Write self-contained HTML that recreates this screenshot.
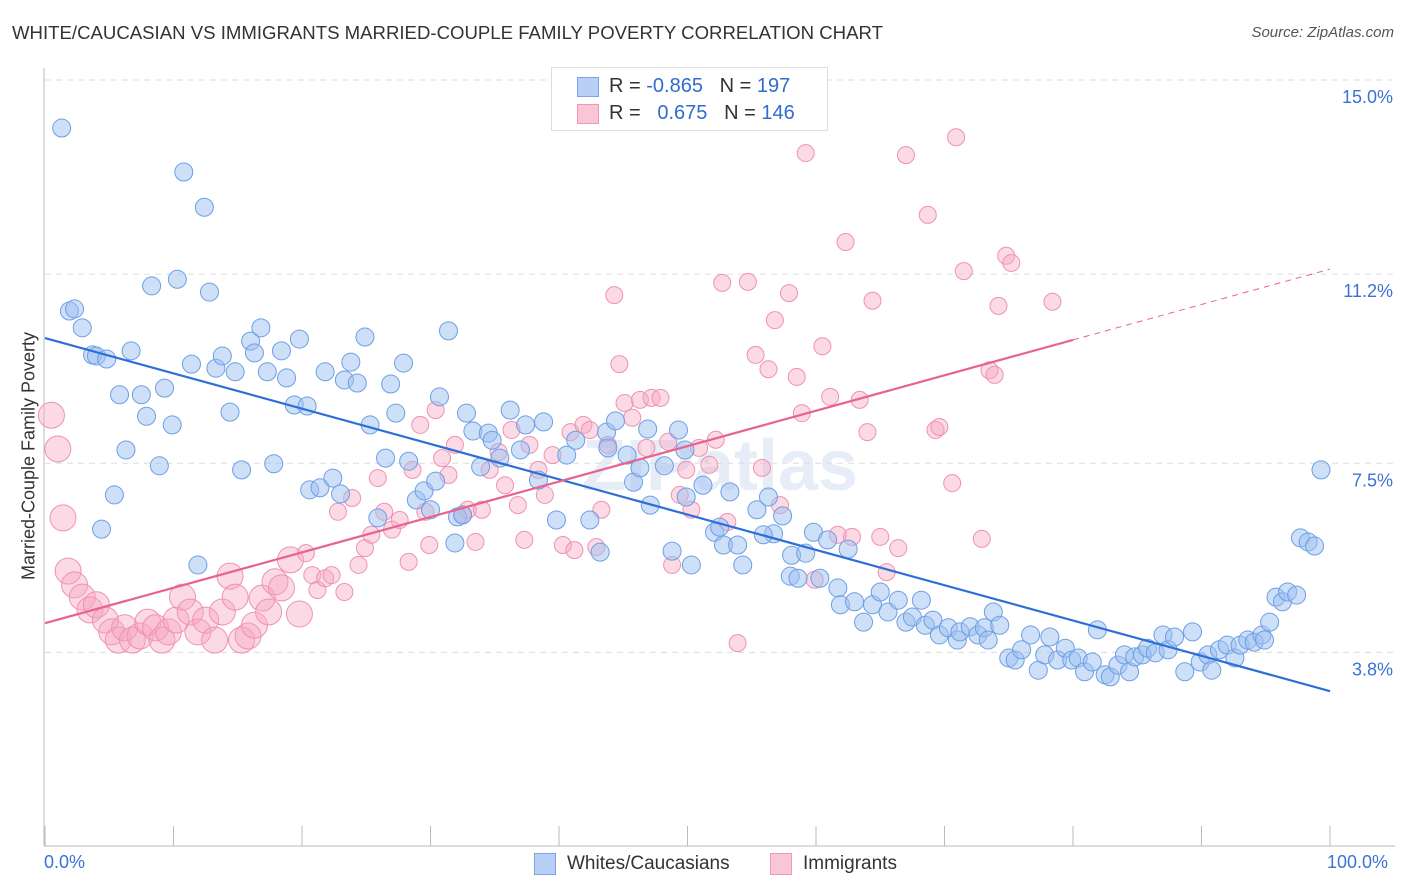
<!DOCTYPE html>
<html><head><meta charset="utf-8"><style>
body{margin:0;background:#fff;font-family:"Liberation Sans",sans-serif;}
#wrap{position:relative;width:1406px;height:892px;overflow:hidden;}
.t{position:absolute;white-space:nowrap;}
</style></head><body>
<div id="wrap">
<div class="t" style="left:12px;top:22px;font-size:18.6px;color:#333;">WHITE/CAUCASIAN VS IMMIGRANTS MARRIED-COUPLE FAMILY POVERTY CORRELATION CHART</div>
<div class="t" style="right:12px;top:24px;font-size:15px;color:#555;font-style:italic;">Source: ZipAtlas.com</div>
<svg id="svg" width="1406" height="892" style="position:absolute;left:0;top:0"></svg>
<div class="t" style="left:551px;top:67px;width:275px;height:62px;border:1px solid #ddd;background:#fff;">
 <div style="position:absolute;left:25px;top:9px;width:20px;height:18px;background:#b8d0f5;border:1px solid #7aa4e6;"></div>
 <div style="position:absolute;left:25px;top:36px;width:20px;height:18px;background:#fac6d6;border:1px solid #ee9ab4;"></div>
 <div class="t" style="left:57px;top:7px;font-size:20px;color:#333;">R = <span style="color:#2f6bd0">-0.865</span>&nbsp;&nbsp;&nbsp;N = <span style="color:#2f6bd0">197</span></div>
 <div class="t" style="left:57px;top:34px;font-size:20px;color:#333;">R = &nbsp;&nbsp;<span style="color:#2f6bd0">0.675</span>&nbsp;&nbsp;&nbsp;N = <span style="color:#2f6bd0">146</span></div>
</div>
<div class="t" style="top:456px;transform:translate(-50%,-50%) rotate(-90deg);transform-origin:center;left:29px;font-size:18px;color:#333;">Married-Couple Family Poverty</div>
<div class="t" style="left:44px;top:852px;font-size:18px;color:#3b72d4;">0.0%</div>
<div class="t" style="left:1327px;top:852px;font-size:18px;color:#3b72d4;">100.0%</div>
<div class="t" style="left:534px;top:853px;width:20px;height:20px;background:#b8d0f5;border:1px solid #7aa4e6;"></div>
<div class="t" style="left:567px;top:853px;font-size:19px;color:#333;">Whites/Caucasians</div>
<div class="t" style="left:770px;top:853px;width:20px;height:20px;background:#fac6d6;border:1px solid #ee9ab4;"></div>
<div class="t" style="left:803px;top:853px;font-size:19px;color:#333;">Immigrants</div>
</div>
<script>
const yTicks=[15.0,11.2,7.5,3.8];
const yTickLabels=["15.0%","11.2%","7.5%","3.8%"];
const xTicks=[0,10,20,30,40,50,60,70,80,90,100];
const blueTrend=[9.95,3.04];
const pinkTrend=[4.37,11.3];
const pinkSolidEnd=80;
const blueX=[1.3,10.8,12.4,1.9,2.3,2.9,3.7,4.0,4.8,6.7,8.3,10.3,12.8,5.8,7.5,9.3,7.9,9.9,6.3,8.9,5.4,4.4,11.4,13.3,13.8,14.8,14.4,15.3,11.9,16.0,16.8,16.3,17.3,18.4,18.8,19.8,19.4,20.4,17.8,21.8,23.3,23.8,24.3,24.9,27.9,26.9,31.4,30.7,27.3,25.3,20.6,21.4,22.4,23.0,26.5,28.3,25.9,28.9,29.5,30.4,32.8,33.3,34.5,34.8,36.2,37.4,38.8,37.0,33.9,35.4,30.0,32.1,32.5,31.9,38.4,39.8,40.6,41.3,42.4,43.2,43.7,44.4,43.8,45.3,45.8,46.9,46.3,47.1,48.2,49.3,49.8,48.8,50.3,51.2,49.9,52.1,52.5,52.8,53.3,53.9,54.3,55.4,56.3,57.4,56.7,55.9,58.1,58.0,58.6,59.2,59.8,60.3,60.9,61.7,61.9,62.5,63.0,63.7,64.4,65.0,65.6,66.4,67.0,67.5,68.2,68.5,69.1,69.6,70.3,71.0,71.2,72.0,72.6,73.1,73.8,74.3,73.4,75.0,75.5,76.0,76.7,77.3,77.8,78.2,78.8,79.4,79.9,80.4,80.9,81.5,81.9,82.5,82.9,83.5,84.0,84.4,84.8,85.4,85.8,86.4,87.0,87.4,87.9,88.7,89.3,89.9,90.5,90.8,91.4,92.0,92.6,93.0,93.6,94.1,94.7,94.9,95.3,95.8,96.3,96.7,97.4,97.7,98.3,98.8,99.3];
const blueY=[14.06,13.2,12.51,10.48,10.52,10.15,9.62,9.6,9.54,9.7,10.97,11.1,10.85,8.84,8.84,8.97,8.42,8.25,7.76,7.45,6.88,6.21,9.44,9.36,9.6,9.29,8.5,7.37,5.51,9.89,10.15,9.66,9.29,9.7,9.17,9.93,8.64,8.62,7.49,9.29,9.13,9.48,9.07,9.97,9.46,9.05,10.09,8.8,8.48,8.25,6.98,7.02,7.21,6.9,7.6,7.54,6.43,6.78,6.96,7.15,8.48,8.13,8.09,7.95,8.54,8.25,8.31,7.76,7.43,7.6,6.59,6.45,6.49,5.94,7.17,6.39,7.66,7.95,6.39,5.76,8.11,8.33,7.8,7.66,7.13,8.17,7.41,6.68,7.45,8.15,7.76,5.78,5.51,7.07,6.84,6.15,6.25,5.9,6.94,5.9,5.51,6.59,6.84,6.47,6.12,6.1,5.7,5.29,5.25,5.74,6.15,5.25,6.0,5.06,4.73,5.82,4.79,4.39,4.73,4.98,4.59,4.82,4.39,4.49,4.82,4.33,4.43,4.14,4.28,4.04,4.2,4.3,4.14,4.28,4.59,4.33,4.04,3.69,3.65,3.85,4.14,3.45,3.75,4.1,3.65,3.88,3.65,3.69,3.42,3.61,4.24,3.36,3.32,3.55,3.75,3.42,3.71,3.75,3.88,3.79,4.14,3.85,4.1,3.42,4.2,3.61,3.75,3.45,3.85,3.94,3.69,3.94,4.04,4.0,4.14,4.04,4.39,4.88,4.79,4.98,4.92,6.04,5.96,5.88,7.37];
const pinkX=[0.5,1.0,1.4,1.8,2.3,2.9,3.5,4.0,4.7,5.2,5.7,6.2,6.8,7.4,8.0,8.6,9.1,9.6,10.2,10.7,11.3,11.9,12.5,13.2,13.8,14.4,14.8,15.3,15.8,16.3,16.9,17.4,17.9,18.4,19.1,19.8,20.3,20.8,21.2,21.8,22.3,22.8,23.3,23.9,24.4,24.9,25.4,25.9,26.4,27.0,27.6,28.3,28.6,29.2,29.6,29.9,30.4,30.9,31.4,31.9,32.5,32.9,33.5,34.0,34.6,35.3,35.8,36.3,36.8,37.3,37.7,38.4,38.9,39.5,40.3,40.9,41.2,41.9,42.4,42.9,43.3,43.8,44.3,44.7,45.1,45.7,46.3,46.8,47.2,47.9,48.5,48.8,49.4,49.9,50.3,50.9,51.7,52.2,52.7,53.1,53.9,54.7,55.3,55.8,56.3,56.8,57.2,57.9,58.5,58.9,59.2,59.9,60.5,61.1,61.7,62.3,62.8,63.4,64.0,64.4,65.0,65.5,66.4,67.0,68.7,69.3,69.6,70.6,70.9,71.5,72.9,73.5,73.9,74.2,74.8,75.2,78.4];
const pinkY=[8.44,7.78,6.43,5.39,5.12,4.88,4.63,4.73,4.43,4.2,4.04,4.28,4.04,4.12,4.39,4.28,4.04,4.2,4.43,4.88,4.59,4.2,4.43,4.04,4.59,5.29,4.88,4.04,4.12,4.33,4.86,4.59,5.18,5.06,5.61,4.55,5.74,5.31,5.02,5.25,5.31,6.55,4.98,6.82,5.51,5.84,6.1,7.21,6.55,6.2,6.39,5.57,7.37,8.25,6.55,5.9,8.54,7.6,7.27,7.86,6.49,6.59,5.96,6.59,7.37,7.72,7.07,8.15,6.68,6.0,7.86,7.37,6.88,7.66,5.9,8.11,5.8,8.25,8.15,5.86,6.59,7.86,10.79,9.44,8.68,8.39,8.74,7.8,8.78,8.78,7.92,5.51,6.88,7.37,6.59,7.8,7.47,7.96,11.03,6.35,3.98,11.05,9.62,7.41,9.34,10.3,6.68,10.83,9.19,8.48,13.57,5.22,9.79,8.8,6.1,11.83,6.06,8.74,8.11,10.68,6.06,5.37,5.84,13.53,12.36,8.15,8.21,7.11,13.88,11.26,6.02,9.32,9.23,10.58,11.56,11.42,10.66];

const NS="http://www.w3.org/2000/svg";
const svg=document.getElementById('svg');
const X0=45,X1=1330,YTOP=80,PXPER=51.1;
const xs=v=>X0+(X1-X0)*v/100;
const ys=v=>YTOP+(15-v)*PXPER;
function mk(tag,attrs){const e=document.createElementNS(NS,tag);for(const k in attrs)e.setAttribute(k,attrs[k]);svg.appendChild(e);return e;}
const wm=mk('text',{x:720,y:490,'font-size':72,'text-anchor':'middle',fill:'#e6edf7','font-family':'Liberation Sans, sans-serif','font-weight':'bold'});
wm.textContent='ZIPatlas';


yTicks.forEach((t,i)=>{
 const g=mk('line',{x1:X0,x2:1395,y1:ys(t),y2:ys(t),stroke:'#ddd','stroke-dasharray':'6,5'});
 
 
 const l=mk('text',{x:1393,y:ys(t)+23,'font-size':18,'text-anchor':'end',fill:'#3b72d4','font-family':'Liberation Sans, sans-serif'});
 l.textContent=yTickLabels[i];
 
 
});
const ax=mk('line',{x1:44,x2:44,y1:68,y2:846,stroke:'#bbb'});


const bx=mk('line',{x1:44,x2:1395,y1:846,y2:846,stroke:'#bbb'});


xTicks.forEach(t=>{
 const k=mk('line',{x1:xs(t),x2:xs(t),y1:826,y2:846,stroke:'#bbb'});
 
 
});
pinkX.forEach((x,i)=>{
 const r=x<20?13:8.5;
 const c=mk('circle',{cx:xs(x),cy:ys(pinkY[i]),r:r,fill:'rgba(246,168,194,0.42)',stroke:'#ef92b1','stroke-width':1});
 
 
});
blueX.forEach((x,i)=>{
 const c=mk('circle',{cx:xs(x),cy:ys(blueY[i]),r:9,fill:'rgba(158,192,242,0.5)',stroke:'#6d9fe4','stroke-width':1});
 
 
});
const bl=mk('line',{x1:xs(0),y1:ys(blueTrend[0]),x2:xs(100),y2:ys(blueTrend[1]),stroke:'#2d6fd8','stroke-width':2.2});


const pAt=x=>pinkTrend[0]+(pinkTrend[1]-pinkTrend[0])*x/100;
const pl=mk('line',{x1:xs(0),y1:ys(pAt(0)),x2:xs(pinkSolidEnd),y2:ys(pAt(pinkSolidEnd)),stroke:'#e8638f','stroke-width':2.2});


const pd=mk('line',{x1:xs(pinkSolidEnd),y1:ys(pAt(pinkSolidEnd)),x2:xs(100),y2:ys(pAt(100)),stroke:'#e8638f','stroke-width':1,'stroke-dasharray':'6,5'});


</script>
</body></html>
